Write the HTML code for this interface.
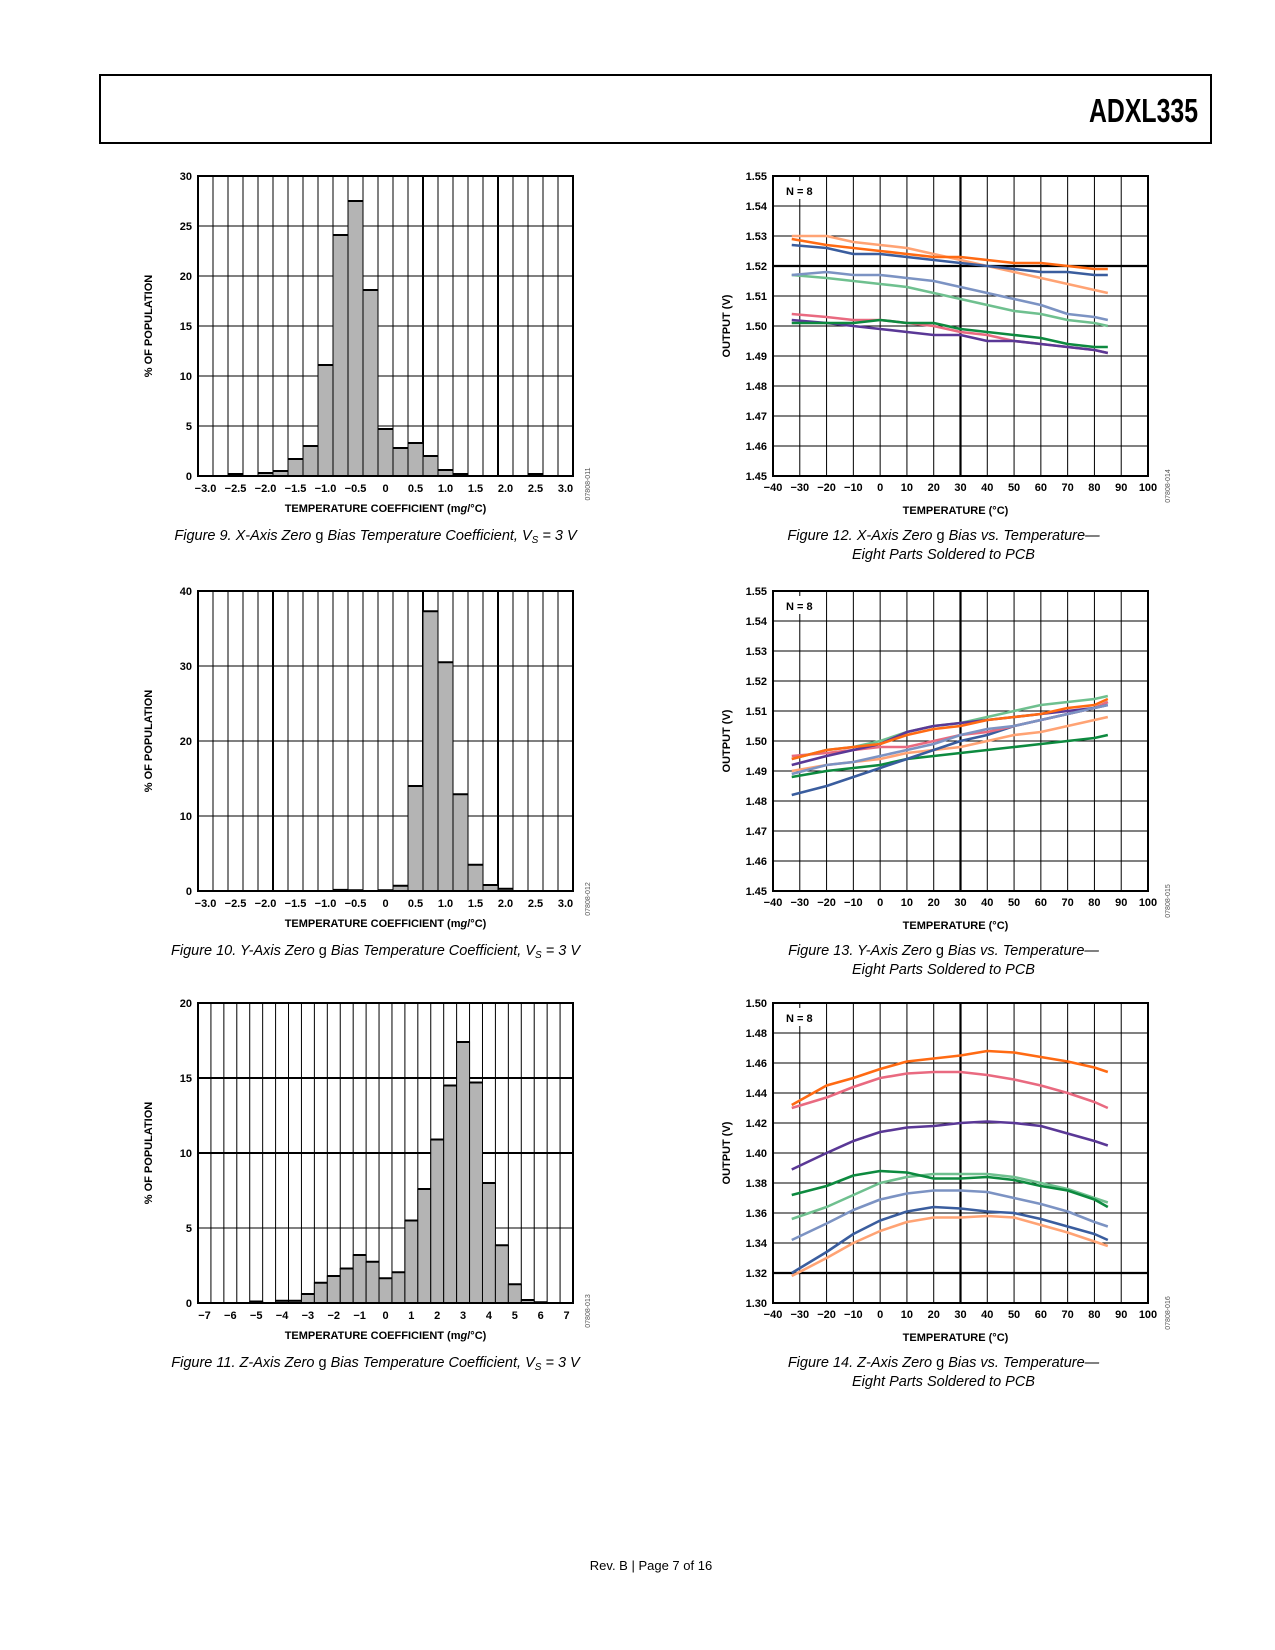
<!DOCTYPE html>
<html><head><meta charset="utf-8">
<style>
body{margin:0;background:#fff;}
svg{display:block;font-family:"Liberation Sans",Arial,sans-serif;}
.t{font-size:11px;font-weight:bold;fill:#000;}
.cap{font-size:14.5px;font-style:italic;fill:#000;}
</style></head>
<body>
<svg id="page" width="1275" height="1650" viewBox="0 0 1275 1650" xmlns="http://www.w3.org/2000/svg">
<rect x="0" y="0" width="1275" height="1650" fill="#fff"/>
<rect x="100" y="75" width="1111" height="68" fill="none" stroke="#000" stroke-width="2"/>
<text x="1089" y="122" textLength="109" lengthAdjust="spacingAndGlyphs" font-weight="bold" font-size="33">ADXL335</text>
<text x="651" y="1570" text-anchor="middle" font-size="13">Rev. B | Page 7 of 16</text>
<g id="charts"></g>
</svg>
<script>
// ---------- Figure 9 data ----------
const fig9Centers = [-3.0,-2.75,-2.5,-2.25,-2.0,-1.75,-1.5,-1.25,-1.0,-0.75,-0.5,-0.25,0,0.25,0.5,0.75,1.0,1.25,1.5,1.75,2.0,2.25,2.5,2.75,3.0];
const fig9Values = [0,0,0.2,0,0.3,0.5,1.7,3.0,11.1,24.1,27.5,18.6,4.7,2.8,3.3,2.0,0.6,0.2,0,0,0,0,0.2,0,0];
const fig9XTicks = ["−3.0","−2.5","−2.0","−1.5","−1.0","−0.5","0","0.5","1.0","1.5","2.0","2.5","3.0"];
const fig9XTickVals = [-3,-2.5,-2,-1.5,-1,-0.5,0,0.5,1,1.5,2,2.5,3];
const fig9YTicks = [0,5,10,15,20,25,30];
// ---------- Figure 10 data ----------
const fig10Centers = fig9Centers;
const fig10Values = [0,0,0,0,0,0,0,0,0,0.15,0.1,0,0.1,0.7,14.0,37.3,30.5,12.9,3.5,0.8,0.3,0,0,0,0];
const fig10YTicks = [0,10,20,30,40];
// ---------- Figure 11 data ----------
const fig11Centers = [-7,-6.5,-6,-5.5,-5,-4.5,-4,-3.5,-3,-2.5,-2,-1.5,-1,-0.5,0,0.5,1,1.5,2,2.5,3,3.5,4,4.5,5,5.5,6,6.5,7];
const fig11Values = [0,0,0,0,0.1,0,0.15,0.15,0.6,1.35,1.8,2.3,3.2,2.75,1.65,2.05,5.5,7.6,10.9,14.5,17.4,14.7,8.0,3.85,1.25,0.2,0.05,0,0];
const fig11XTicks = ["−7","−6","−5","−4","−3","−2","−1","0","1","2","3","4","5","6","7"];
const fig11XTickVals = [-7,-6,-5,-4,-3,-2,-1,0,1,2,3,4,5,6,7];
const fig11YTicks = [0,5,10,15,20];
// ---------- Line chart data ----------
const temps = [-33,-20,-10,0,10,20,30,40,50,60,70,80,85];
const tempTicks = [-40,-30,-20,-10,0,10,20,30,40,50,60,70,80,90,100];
const seriesColors = {orange:"#ff6a13",lightOrange:"#ffa374",darkBlue:"#3a5d9e",slate:"#7c93c3",lightGreen:"#6fc08f",pink:"#e96a80",green:"#0d8a3f",purple:"#5a3896"};
// Fig 12
const f12Orange=[1.529,1.527,1.526,1.525,1.524,1.523,1.523,1.522,1.521,1.521,1.520,1.519,1.519];
const f12LightOrange=[1.530,1.530,1.528,1.527,1.526,1.524,1.522,1.520,1.518,1.516,1.514,1.512,1.511];
const f12DarkBlue=[1.527,1.526,1.524,1.524,1.523,1.522,1.521,1.520,1.519,1.518,1.518,1.517,1.517];
const f12Slate=[1.517,1.518,1.517,1.517,1.516,1.515,1.513,1.511,1.509,1.507,1.504,1.503,1.502];
const f12LightGreen=[1.517,1.516,1.515,1.514,1.513,1.511,1.509,1.507,1.505,1.504,1.502,1.501,1.500];
const f12Pink=[1.504,1.503,1.502,1.502,1.501,1.500,1.498,1.497,1.495,1.494,1.493,1.492,1.491];
const f12Green=[1.501,1.501,1.501,1.502,1.501,1.501,1.499,1.498,1.497,1.496,1.494,1.493,1.493];
const f12Purple=[1.502,1.501,1.500,1.499,1.498,1.497,1.497,1.495,1.495,1.494,1.493,1.492,1.491];
const f12YTicks=[1.45,1.46,1.47,1.48,1.49,1.50,1.51,1.52,1.53,1.54,1.55];
// Fig 13
const f13LightGreen=[1.494,1.497,1.498,1.500,1.503,1.505,1.506,1.508,1.510,1.512,1.513,1.514,1.515];
const f13Orange=[1.494,1.497,1.498,1.499,1.502,1.504,1.505,1.507,1.508,1.509,1.511,1.512,1.514];
const f13Purple=[1.492,1.495,1.497,1.499,1.503,1.505,1.506,1.507,1.508,1.509,1.510,1.511,1.512];
const f13Pink=[1.495,1.496,1.497,1.498,1.498,1.500,1.502,1.503,1.505,1.507,1.509,1.511,1.513];
const f13Slate=[1.489,1.492,1.493,1.495,1.497,1.499,1.502,1.504,1.505,1.507,1.509,1.511,1.512];
const f13DarkBlue=[1.482,1.485,1.488,1.491,1.494,1.497,1.500,1.502,1.505,1.507,1.509,1.511,1.513];
const f13LightOrange=[1.490,1.492,1.493,1.494,1.496,1.497,1.498,1.500,1.502,1.503,1.505,1.507,1.508];
const f13Green=[1.488,1.490,1.491,1.492,1.494,1.495,1.496,1.497,1.498,1.499,1.500,1.501,1.502];
const f13YTicks=f12YTicks;
// Fig 14
const f14Orange=[1.432,1.445,1.450,1.456,1.461,1.463,1.465,1.468,1.467,1.464,1.461,1.457,1.454];
const f14Pink=[1.430,1.437,1.444,1.450,1.453,1.454,1.454,1.452,1.449,1.445,1.440,1.434,1.430];
const f14Purple=[1.389,1.400,1.408,1.414,1.417,1.418,1.420,1.421,1.420,1.418,1.413,1.408,1.405];
const f14Green=[1.372,1.378,1.385,1.388,1.387,1.383,1.383,1.384,1.382,1.378,1.375,1.369,1.364];
const f14LightGreen=[1.356,1.364,1.372,1.380,1.384,1.386,1.386,1.386,1.384,1.380,1.376,1.370,1.367];
const f14Slate=[1.342,1.353,1.362,1.369,1.373,1.375,1.375,1.374,1.370,1.366,1.361,1.354,1.351];
const f14DarkBlue=[1.320,1.334,1.346,1.355,1.361,1.364,1.363,1.361,1.360,1.356,1.351,1.346,1.342];
const f14LightOrange=[1.318,1.330,1.340,1.348,1.354,1.357,1.357,1.358,1.357,1.352,1.347,1.341,1.338];
const f14YTicks=[1.30,1.32,1.34,1.36,1.38,1.40,1.42,1.44,1.46,1.48,1.50];

const NS="http://www.w3.org/2000/svg";
const root=document.getElementById('charts');
function mk(tag,attrs,parent){const e=document.createElementNS(NS,tag);for(const k in attrs)e.setAttribute(k,attrs[k]);(parent||root).appendChild(e);return e;}
function txt(parent,x,y,s,cls,anchor){const t=mk('text',{x:x,y:y,'class':cls,'text-anchor':anchor||'middle'},parent);t.textContent=s;return t;}

function histogram(name,L,T,centers,values,ymax,yTicks,xTickVals,xTickLabels,thickV,thickH,figId,caption){
  const W=375,H=300,n=centers.length,cw=W/n;
  const g=mk('g',{});
  
  
  const step=centers[1]-centers[0];
  const x=v=>L+((v-centers[0])/step+0.5)*cw;
  const y=v=>T+H-v/ymax*H;
  for(let i=1;i<n;i++){const l=mk('line',{x1:L+i*cw,x2:L+i*cw,y1:T,y2:T+H,stroke:'#000','stroke-width':thickV.includes(i)?2:1},g);
    
    }
  yTicks.forEach(v=>{const l=mk('line',{x1:L,x2:L+W,y1:y(v),y2:y(v),stroke:'#000','stroke-width':thickH.includes(v)?2:1},g);
    
    
    const t=txt(g,L-6,y(v)+4,String(v),'t','end');
    
    });
  centers.forEach((c,i)=>{const v=values[i];if(v<=0)return;
    const b=mk('rect',{x:x(c)-cw/2,y:y(v),width:cw,height:y(0)-y(v),fill:'#b4b4b4',stroke:'#000','stroke-width':1},g);
    
    
    mk('line',{x1:x(c)-cw/2,x2:x(c)+cw/2,y1:y(v),y2:y(v),stroke:'#000','stroke-width':2},g);});
  const f=mk('rect',{x:L,y:T,width:W,height:H,fill:'none',stroke:'#000','stroke-width':2},g);
  
  
  xTickVals.forEach((v,i)=>{const t=txt(g,x(v),T+H+16,xTickLabels[i],'t');
    
    });
  const xt=mk('text',{x:L+W/2,y:T+H+36,'class':'t','text-anchor':'middle'},g);
  xt.innerHTML='TEMPERATURE COEFFICIENT (m<tspan font-style="italic">g</tspan>/°C)';
  
  
  const yt=mk('text',{x:0,y:0,'class':'t','text-anchor':'middle',transform:`translate(${L-46},${T+H/2}) rotate(-90)`},g);
  yt.textContent='% OF POPULATION';
  
  
  const id=mk('text',{x:0,y:0,'font-size':'7','fill':'#555','text-anchor':'middle',transform:`translate(${L+W+17},${T+H+8}) rotate(-90)`},g);
  id.textContent=figId;
  
  
  const cp=mk('text',{x:L+W/2-10,y:T+H+64,'class':'cap','text-anchor':'middle'},g);
  cp.innerHTML=caption;
  
  
}

function lineChart(name,T,ymin,ymax,yTicks,dec,thickY,series,figId,cap1){
  const L=773,W=375,H=300;
  const g=mk('g',{});
  
  
  const x=v=>L+(v+40)/140*W;
  const y=v=>T+H-(v-ymin)/(ymax-ymin)*H;
  tempTicks.forEach(v=>{const l=mk('line',{x1:x(v),x2:x(v),y1:T,y2:T+H,stroke:'#000','stroke-width':v===30?2.2:1},g);
    
    
    const t=txt(g,x(v),T+H+15,v<0?'−'+(-v):String(v),'t');
    
    });
  yTicks.forEach(v=>{const l=mk('line',{x1:L,x2:L+W,y1:y(v),y2:y(v),stroke:'#000','stroke-width':Math.abs(v-thickY)<1e-9?2.2:1},g);
    
    
    const t=txt(g,L-6,y(v)+4,v.toFixed(dec),'t','end');
    
    });
  mk('rect',{x:L+4,y:T+5,width:40,height:18,fill:'#fff'},g);
  const nl=txt(g,L+13,T+19,'N = 8','t','start');
  
  
  series.forEach(s=>{const p=mk('polyline',{points:temps.map((t,i)=>x(t)+','+y(s.data[i])).join(' '),fill:'none',stroke:s.color,'stroke-width':2.6,'stroke-linejoin':'round'},g);
    
    });
  const f=mk('rect',{x:L,y:T,width:W,height:H,fill:'none',stroke:'#000','stroke-width':2},g);
  
  
  const xt=txt(g,L+W/2-5,T+H+38,'TEMPERATURE (°C)','t');
  
  
  const yt=mk('text',{x:0,y:0,'class':'t','text-anchor':'middle',transform:`translate(${L-43},${T+H/2}) rotate(-90)`},g);
  yt.textContent='OUTPUT (V)';
  
  
  const id=mk('text',{x:0,y:0,'font-size':'7','fill':'#555','text-anchor':'middle',transform:`translate(${L+W+22},${T+H+10}) rotate(-90)`},g);
  id.textContent=figId;
  
  
  const c1=mk('text',{x:L+W/2-17,y:T+H+64,'class':'cap','text-anchor':'middle'},g);
  c1.innerHTML=cap1;
  
  
  const c2=txt(g,L+W/2-17,T+H+83,'Eight Parts Soldered to PCB','cap');
  
  
}
const C=seriesColors;
histogram('figure-9-histogram',198,176,fig9Centers,fig9Values,30,fig9YTicks,fig9XTickVals,fig9XTicks,[15,20],[],'07808-011',
 'Figure 9. X-Axis Zero <tspan font-style="normal">g</tspan> Bias Temperature Coefficient, V<tspan font-size="10" dy="3">S</tspan><tspan dy="-3"> = 3 V</tspan>');
histogram('figure-10-histogram',198,591,fig10Centers,fig10Values,40,fig10YTicks,fig9XTickVals,fig9XTicks,[5,15,20],[],'07808-012',
 'Figure 10. Y-Axis Zero <tspan font-style="normal">g</tspan> Bias Temperature Coefficient, V<tspan font-size="10" dy="3">S</tspan><tspan dy="-3"> = 3 V</tspan>');
histogram('figure-11-histogram',198,1003,fig11Centers,fig11Values,20,fig11YTicks,fig11XTickVals,fig11XTicks,[],[10,15],'07808-013',
 'Figure 11. Z-Axis Zero <tspan font-style="normal">g</tspan> Bias Temperature Coefficient, V<tspan font-size="10" dy="3">S</tspan><tspan dy="-3"> = 3 V</tspan>');
lineChart('figure-12-line-chart',176,1.45,1.55,f12YTicks,2,1.52,[
 {name:'series-light-green',color:C.lightGreen,data:f12LightGreen},{name:'series-slate-blue',color:C.slate,data:f12Slate},
 {name:'series-light-orange',color:C.lightOrange,data:f12LightOrange},{name:'series-dark-blue',color:C.darkBlue,data:f12DarkBlue},
 {name:'series-orange',color:C.orange,data:f12Orange},{name:'series-pink',color:C.pink,data:f12Pink},
 {name:'series-purple',color:C.purple,data:f12Purple},{name:'series-green',color:C.green,data:f12Green}],'07808-014',
 'Figure 12. X-Axis Zero <tspan font-style="normal">g</tspan> Bias vs. Temperature—');
lineChart('figure-13-line-chart',591,1.45,1.55,f13YTicks,2,-1,[
 {name:'series-green',color:C.green,data:f13Green},{name:'series-light-orange',color:C.lightOrange,data:f13LightOrange},
 {name:'series-dark-blue',color:C.darkBlue,data:f13DarkBlue},{name:'series-pink',color:C.pink,data:f13Pink},
 {name:'series-light-green',color:C.lightGreen,data:f13LightGreen},{name:'series-purple',color:C.purple,data:f13Purple},
 {name:'series-slate-blue',color:C.slate,data:f13Slate},{name:'series-orange',color:C.orange,data:f13Orange}],'07808-015',
 'Figure 13. Y-Axis Zero <tspan font-style="normal">g</tspan> Bias vs. Temperature—');
lineChart('figure-14-line-chart',1003,1.30,1.50,f14YTicks,2,1.32,[
 {name:'series-light-orange',color:C.lightOrange,data:f14LightOrange},{name:'series-dark-blue',color:C.darkBlue,data:f14DarkBlue},
 {name:'series-slate-blue',color:C.slate,data:f14Slate},{name:'series-light-green',color:C.lightGreen,data:f14LightGreen},
 {name:'series-green',color:C.green,data:f14Green},{name:'series-purple',color:C.purple,data:f14Purple},
 {name:'series-pink',color:C.pink,data:f14Pink},{name:'series-orange',color:C.orange,data:f14Orange}],'07808-016',
 'Figure 14. Z-Axis Zero <tspan font-style="normal">g</tspan> Bias vs. Temperature—');
</script>
</body></html>
